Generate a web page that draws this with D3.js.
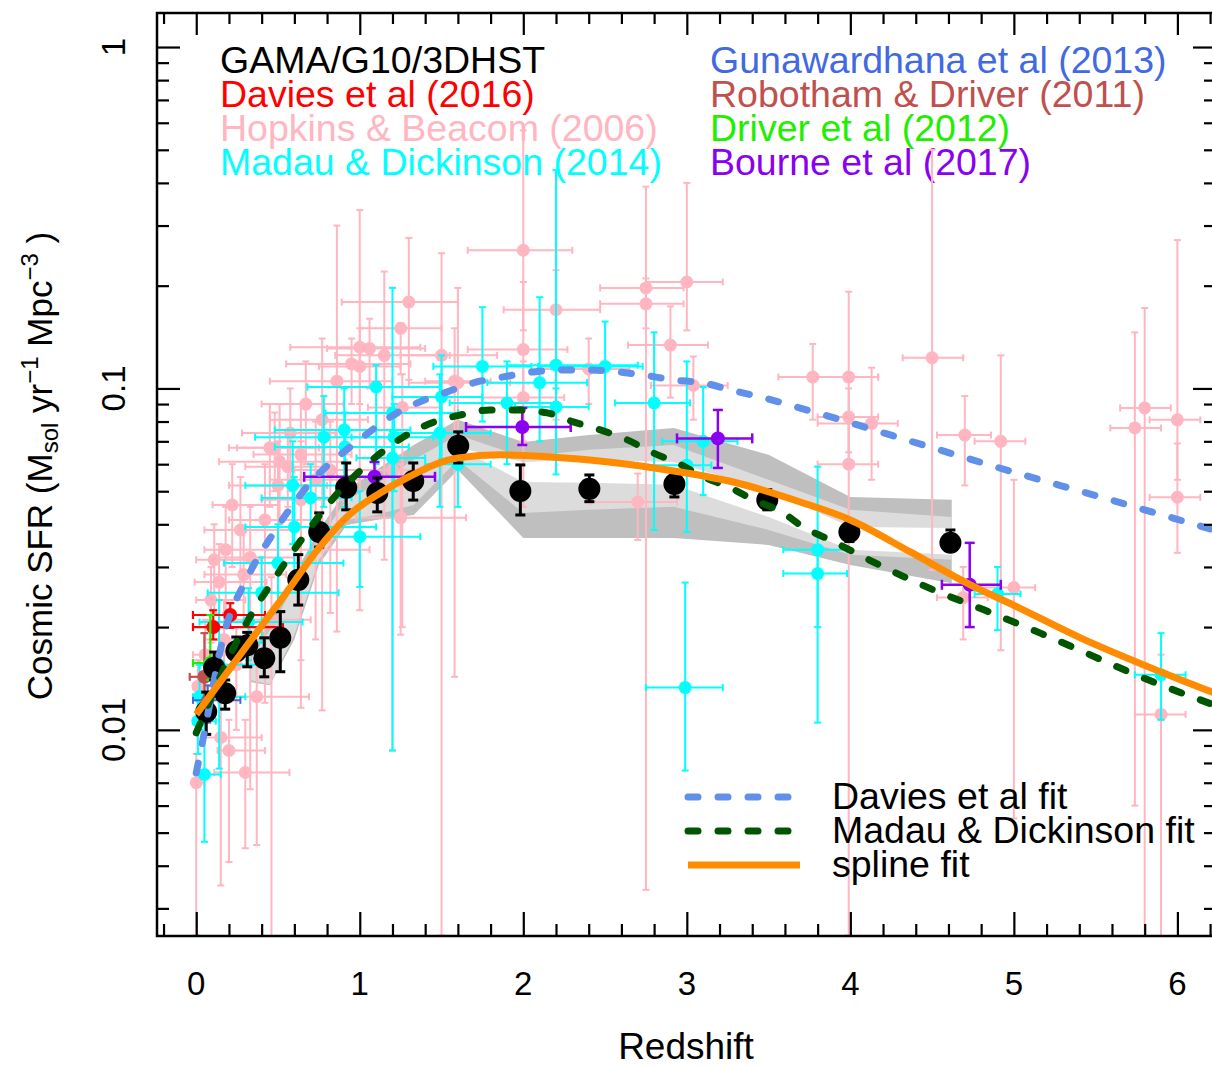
<!DOCTYPE html>
<html>
<head>
<meta charset="utf-8">
<script src="https://cdn.jsdelivr.net/npm/d3@7"></script>
<style>
  body { margin: 0; background: #fff; }
  svg { display: block; }
  text { font-family: "Liberation Sans", Arial, Helvetica, sans-serif; }
</style>
</head>
<body>
<svg id="chart" width="1212" height="1068"></svg>
<script>
// ---- data ----
// rows: [z, sfr, zLo, zHi, sfrLo, sfrHi]
const hopkins = [
  [5.90, 0.0111, 5.74, 6.05, 0.0014, 0.0166],
  [5.74, 0.0766, 5.59, 5.90, 0.0060, 0.146],
  [5.80, 0.0877, 5.65, 5.96, 0.0024, 0.172],
  [6.00, 0.0809, 5.83, 6.14, 0.054, 0.272],
  [6.00, 0.048, 5.83, 6.14, 0.033, 0.069],
  [4.50, 0.123, 4.32, 4.69, 0.0294, 0.50],
  [4.70, 0.073, 4.53, 4.86, 0.052, 0.095],
  [4.92, 0.070, 4.76, 5.07, 0.0171, 0.125],
  [5.00, 0.0261, 4.76, 5.13, 0.0055, 0.054],
  [4.69, 0.0244, 4.53, 4.84, 0.0184, 0.030],
  [3.77, 0.108, 3.56, 4.17, 0.081, 0.135],
  [3.99, 0.108, 3.80, 4.17, 0.060, 0.192],
  [3.99, 0.0825, 3.80, 4.17, 0.065, 0.10],
  [4.13, 0.079, 3.80, 4.29, 0.054, 0.115],
  [3.99, 0.060, 3.80, 4.17, 0.0025, 0.081],
  [2.90, 0.134, 2.64, 3.13, 0.094, 0.174],
  [2.75, 0.197, 2.47, 2.98, 0.0034, 0.39],
  [3.00, 0.205, 2.75, 3.22, 0.148, 0.40],
  [2.75, 0.177, 2.47, 2.98, 0.15, 0.21],
  [3.04, 0.102, 2.78, 3.25, 0.081, 0.124],
  [2.70, 0.0465, 2.41, 2.94, 0.036, 0.0563],
  [2.00, 0.254, 1.66, 2.30, 0.148, 0.57],
  [2.20, 0.170, 1.88, 2.47, 0.081, 0.222],
  [2.00, 0.130, 1.66, 2.27, 0.045, 0.205],
  [2.00, 0.094, 1.75, 2.25, 0.070, 0.120],
  [2.40, 0.114, 2.10, 2.65, 0.090, 0.140],
  [1.50, 0.125, 1.25, 1.84, 0.0025, 0.249],
  [1.60, 0.104, 1.30, 1.92, 0.060, 0.197],
  [1.30, 0.179, 0.89, 1.60, 0.106, 0.276],
  [1.25, 0.150, 1.00, 1.50, 0.110, 0.155],
  [1.00, 0.132, 0.575, 1.37, 0.090, 0.333],
  [1.06, 0.131, 0.80, 1.40, 0.100, 0.160],
  [1.15, 0.125, 0.85, 1.55, 0.0315, 0.220],
  [0.95, 0.118, 0.55, 1.31, 0.090, 0.140],
  [1.00, 0.116, 0.75, 1.25, 0.0224, 0.150],
  [0.86, 0.105, 0.45, 1.20, 0.0194, 0.300],
  [1.58, 0.105, 1.40, 1.80, 0.0143, 0.150],
  [0.77, 0.081, 0.45, 1.05, 0.0114, 0.140],
  [1.26, 0.088, 1.05, 1.50, 0.020, 0.110],
  [0.51, 0.061, 0.14, 0.92, 0.040, 0.090],
  [0.56, 0.059, 0.30, 0.80, 0.045, 0.075],
  [0.50, 0.052, 0.20, 0.80, 0.020, 0.070],
  [1.25, 0.0418, 0.98, 1.65, 0.019, 0.060],
  [1.20, 0.0577, 1.00, 1.40, 0.0087, 0.070],
  [0.37, 0.0125, 0.12, 0.69, 0.0046, 0.016],
  [0.20, 0.0087, 0.13, 0.42, 0.0041, 0.0107],
  [0.30, 0.0075, 0.11, 0.57, 0.0045, 0.0107],
  [0.15, 0.0095, 0.05, 0.40, 0.0035, 0.012],
  [0.00, 0.0070, -0.02, 0.05, 0.0025, 0.0085],
  [0.14, 0.0271, -0.01, 0.43, 0.020, 0.035],
  [0.01, 0.0134, -0.02, 0.10, 0.010, 0.016],
  [0.22, 0.0456, 0.10, 0.50, 0.030, 0.060],
  [0.27, 0.0385, 0.05, 0.60, 0.025, 0.055],
  [0.18, 0.0337, 0.05, 1.06, 0.022, 0.045],
  [0.11, 0.0315, 0.00, 0.40, 0.022, 0.040],
  [0.33, 0.0320, 0.10, 0.60, 0.0067, 0.045],
  [0.42, 0.0412, 0.20, 0.75, 0.012, 0.060],
  [0.64, 0.0472, 0.40, 0.90, 0.0116, 0.070],
  [0.09, 0.0240, 0.00, 0.30, 0.018, 0.030],
  [0.17, 0.0184, 0.05, 0.40, 0.012, 0.024],
  [0.245, 0.0155, 0.10, 0.45, 0.010, 0.020],
  [0.055, 0.0166, -0.02, 0.20, 0.012, 0.021],
  [0.73, 0.054, 0.45, 1.00, 0.0184, 0.080],
  [0.82, 0.0577, 0.60, 1.10, 0.022, 0.080],
  [0.64, 0.064, 0.35, 0.95, 0.016, 0.090],
  [0.45, 0.067, 0.20, 0.75, 0.045, 0.090],
  [0.29, 0.0285, 0.05, 0.55, 0.020, 0.038],
  [0.46, 0.021, 0.20, 0.70, 0.0024, 0.028],
  [0.575, 0.074, 0.28, 0.85, 0.050, 0.100],
  [0.48, 0.067, 0.25, 0.78, 0.050, 0.085],
  [0.67, 0.090, 0.40, 0.90, 0.060, 0.120]
];

const madau = [
  [2.99, 0.0133, 2.75, 3.22, 0.0076, 0.027],
  [5.90, 0.0145, 5.74, 6.05, 0.0107, 0.0192],
  [4.90, 0.0250, 4.76, 5.04, 0.0196, 0.030],
  [3.80, 0.0337, 3.59, 3.98, 0.0105, 0.059],
  [3.80, 0.0287, 3.59, 3.98, 0.020, 0.034],
  [2.80, 0.0907, 2.56, 3.02, 0.0385, 0.146],
  [3.10, 0.0700, 2.85, 3.31, 0.0487, 0.101],
  [3.00, 0.0596, 2.70, 3.15, 0.038, 0.120],
  [2.50, 0.116, 2.09, 2.73, 0.0756, 0.157],
  [2.20, 0.117, 1.90, 2.70, 0.062, 0.436],
  [2.10, 0.104, 1.78, 2.39, 0.070, 0.185],
  [1.75, 0.116, 1.45, 2.05, 0.080, 0.173],
  [1.90, 0.0907, 1.55, 2.20, 0.060, 0.120],
  [2.20, 0.0883, 1.95, 2.40, 0.056, 0.100],
  [1.50, 0.0944, 1.20, 1.75, 0.062, 0.125],
  [1.10, 0.101, 0.68, 1.49, 0.060, 0.117],
  [0.78, 0.0720, 0.36, 1.19, 0.045, 0.095],
  [0.905, 0.0756, 0.48, 1.31, 0.050, 0.100],
  [1.20, 0.0848, 0.79, 1.60, 0.055, 0.197],
  [1.21, 0.0720, 0.95, 1.45, 0.050, 0.090],
  [1.20, 0.0626, 0.98, 1.40, 0.0087, 0.075],
  [1.49, 0.0741, 1.20, 1.80, 0.045, 0.110],
  [0.91, 0.0674, 0.48, 1.30, 0.045, 0.085],
  [0.70, 0.0478, 0.40, 0.95, 0.033, 0.060],
  [0.60, 0.0393, 0.30, 1.10, 0.0262, 0.055],
  [1.00, 0.0368, 0.72, 1.37, 0.0262, 0.050],
  [0.40, 0.0252, 0.07, 0.87, 0.018, 0.032],
  [0.32, 0.0207, 0.02, 0.65, 0.016, 0.026],
  [0.02, 0.0125, -0.02, 0.30, 0.010, 0.0155],
  [0.05, 0.0074, 0.02, 0.15, 0.0047, 0.0105],
  [0.01, 0.0106, -0.02, 0.12, 0.0085, 0.0125],
  [0.50, 0.0308, 0.17, 0.90, 0.022, 0.040],
  [1.60, 0.0600, 1.40, 1.80, 0.045, 0.075],
  [0.59, 0.0520, 0.30, 0.95, 0.035, 0.070],
  [0.14, 0.0155, 0.02, 0.40, 0.0077, 0.024]
];

const davies16 = [
  [0.104, 0.0200, -0.02, 0.53, 0.0184, 0.0224],
  [0.208, 0.0217, -0.02, 0.42, 0.0199, 0.0235]
];
const gunawardhana = [[0.07, 0.0122, -0.02, 0.27, 0.0105, 0.0135]];
const robotham = [[0.05, 0.0143, -0.04, 0.13, 0.0122, 0.0192]];
const driver12 = [[0.086, 0.0157, -0.02, 0.13, 0.0140, 0.0217]];
const bourne = [
  [1.09, 0.0551, 0.66, 1.46, 0.0495, 0.0609],
  [1.994, 0.0771, 1.65, 2.29, 0.0683, 0.0877],
  [3.19, 0.0714, 2.94, 3.40, 0.0585, 0.0865],
  [4.73, 0.0266, 4.56, 4.92, 0.0200, 0.0353]
];

// GAMA/G10/3DHST: [z, sfr, sfrLo, sfrHi]
const gama = [
  [0.061, 0.0113, 0.0097, 0.0129],
  [0.110, 0.0152, 0.0140, 0.0169],
  [0.177, 0.0128, 0.0115, 0.0140],
  [0.245, 0.0170, 0.0161, 0.0187],
  [0.312, 0.0177, 0.0153, 0.0193],
  [0.416, 0.0162, 0.0143, 0.0186],
  [0.514, 0.0186, 0.0148, 0.0222],
  [0.624, 0.0275, 0.0232, 0.0326],
  [0.752, 0.0380, 0.0343, 0.0432],
  [0.917, 0.0512, 0.0441, 0.0605],
  [1.107, 0.0494, 0.0435, 0.0547],
  [1.327, 0.0536, 0.0471, 0.0605],
  [1.602, 0.0679, 0.0605, 0.0746],
  [1.982, 0.0501, 0.0426, 0.0597],
  [2.404, 0.0508, 0.0466, 0.0558],
  [2.924, 0.0525, 0.0481, 0.0558],
  [3.492, 0.0471, 0.0441, 0.0505],
  [3.994, 0.0380, 0.0356, 0.0412],
  [4.612, 0.0353, 0.0337, 0.0385]
];

// shaded error regions
const bandZ       = [0.33, 0.45, 0.60, 0.75, 0.92, 1.10, 1.33, 1.60, 2.00, 2.40, 2.92, 3.50, 4.00, 4.62];
const bandDarkHi  = [0.0166, 0.0210, 0.0284, 0.0385, 0.0504, 0.0577, 0.0683, 0.0809, 0.0697, 0.0731, 0.0766, 0.0639, 0.0481, 0.0472];
const bandDarkLo  = [0.0138, 0.0135, 0.0184, 0.0304, 0.0398, 0.0412, 0.0426, 0.0577, 0.0365, 0.0365, 0.0365, 0.0348, 0.0304, 0.0269];
const bandLightHi = [0.0160, 0.0196, 0.0266, 0.0360, 0.0472, 0.0522, 0.0618, 0.0731, 0.0630, 0.0661, 0.0683, 0.0540, 0.0441, 0.0420];
const bandLightLo = [0.0140, 0.0136, 0.0190, 0.0315, 0.0412, 0.0426, 0.0456, 0.0618, 0.0432, 0.0441, 0.0450, 0.0385, 0.0326, 0.0315];
const coreZ  = [1.60, 2.00, 2.40, 2.92, 3.50, 4.00, 4.62];
const coreHi = [0.0670, 0.0609, 0.0618, 0.0609, 0.0504, 0.0393, 0.0390];
const coreLo = [0.0670, 0.0532, 0.0529, 0.0522, 0.0420, 0.0337, 0.0326];

// fitted curves
const fitDaviesZ = [0, 0.037, 0.177, 0.312, 0.477, 0.599, 0.697, 0.820, 0.942, 1.229, 1.394, 1.535, 1.694, 1.878, 2.061, 2.245, 2.410, 2.575, 2.734, 2.917, 3.101, 3.266, 3.450, 3.774, 4.446, 4.997, 5.529, 6.23];
const fitDaviesV = [0.00748, 0.00916, 0.0196, 0.0279, 0.0380, 0.0462, 0.0529, 0.0605, 0.0674, 0.0848, 0.0925, 0.0977, 0.1038, 0.1081, 0.1118, 0.1133, 0.1133, 0.1118, 0.1095, 0.1059, 0.1038, 0.0990, 0.0944, 0.0854, 0.0683, 0.0569, 0.0481, 0.0384];
const fitMadauZ = [0, 0.294, 0.391, 0.483, 0.575, 0.679, 0.789, 1.028, 1.168, 1.309, 1.456, 1.615, 1.798, 1.963, 2.147, 2.306, 2.471, 2.636, 2.795, 2.942, 3.101, 3.266, 3.407, 3.590, 3.694, 3.896, 4.202, 4.508, 4.813, 5.162, 5.896, 6.23];
const fitMadauV = [0.0098, 0.0200, 0.0240, 0.0279, 0.0325, 0.0380, 0.0447, 0.0589, 0.0669, 0.0741, 0.0798, 0.0836, 0.0865, 0.0865, 0.0848, 0.0798, 0.0756, 0.0707, 0.0647, 0.0605, 0.0551, 0.0512, 0.0472, 0.0432, 0.0398, 0.0356, 0.0300, 0.0257, 0.0225, 0.0192, 0.01355, 0.0118];
const splineZ = [0, 0.312, 0.550, 0.746, 0.942, 1.125, 1.309, 1.602, 1.859, 2.391, 2.881, 3.284, 3.694, 4.0, 4.367, 4.734, 4.997, 5.407, 5.896, 6.23];
const splineV = [0.0111, 0.0177, 0.0252, 0.0339, 0.0429, 0.0494, 0.0554, 0.0626, 0.0639, 0.0618, 0.0577, 0.0532, 0.0465, 0.0412, 0.0332, 0.0266, 0.0232, 0.0186, 0.0148, 0.0128];

// axes
const xMajor = [0, 1, 2, 3, 4, 5, 6];
const xMinor = d3.range(-0.2, 6.3, 0.2).filter(v => Math.abs(v - Math.round(v)) > 0.01);
const yMajor = [0.01, 0.1, 1];
const yMajorLabels = ['0.01', '0.1', '1'];
const yMinor = [0.003, 0.004, 0.005, 0.006, 0.007, 0.008, 0.009,
                0.02, 0.03, 0.04, 0.05, 0.06, 0.07, 0.08, 0.09,
                0.2, 0.3, 0.4, 0.5, 0.6, 0.7, 0.8, 0.9];

const legendTop = [
  ['GAMA/G10/3DHST', '#000000'],
  ['Davies et al (2016)', '#ff0000'],
  ['Hopkins & Beacom (2006)', '#ffb6c1'],
  ['Madau & Dickinson (2014)', '#00ffff']
];
const legendTop2 = [
  ['Gunawardhana et al (2013)', '#4169e1'],
  ['Robotham & Driver (2011)', '#c0504d'],
  ['Driver et al (2012)', '#22ee00'],
  ['Bourne et al (2017)', '#8a00f0']
];
const legendFits = [
  ['Davies et al fit', '#6090ea', '10 20'],
  ['Madau & Dickinson fit', '#005500', '10 20'],
  ['spline fit', '#ff8c00', null]
];

// ---- layout ----
const box = { left: 157, top: 13, right: 1215, bottom: 936 };
const x = d3.scaleLinear().domain([-0.24, 6.23]).range([box.left, box.right]);
const y = d3.scaleLog().domain([0.00249, 1.258]).range([box.bottom, box.top]);

const svg = d3.select('#chart');
svg.append('defs').append('clipPath').attr('id', 'clip')
  .append('rect')
  .attr('x', box.left).attr('y', box.top)
  .attr('width', box.right - box.left).attr('height', box.bottom - box.top);

// legend text (top)
const legG = svg.append('g').attr('font-size', 37.5);
legG.selectAll('text.l1').data(legendTop).join('text')
  .attr('x', 220).attr('y', (d, i) => 73 + i * 34)
  .attr('fill', d => d[1]).text(d => d[0]);
legG.selectAll('text.l2').data(legendTop2).join('text')
  .attr('x', 710).attr('y', (d, i) => 73 + i * 34)
  .attr('fill', d => d[1]).text(d => d[0]);

const plot = svg.append('g').attr('clip-path', 'url(#clip)');

// bands
function band(zs, lo, hi, fill) {
  const a = d3.area()
    .x((d, i) => x(zs[i]))
    .y0((d, i) => y(lo[i]))
    .y1((d, i) => y(hi[i]));
  plot.append('path').datum(zs).attr('d', a).attr('fill', fill);
}
band(bandZ, bandDarkLo, bandDarkHi, '#bfbfbf');
band(bandZ, bandLightLo, bandLightHi, '#dcdcdc');
band(coreZ, coreLo, coreHi, '#ffffff');

// points with error bars
function drawSet(rows, color, r, sw, cap) {
  const g = plot.append('g').attr('stroke', color).attr('stroke-width', sw);
  g.selectAll('line.xe').data(rows).join('line')
    .attr('x1', d => x(d[2])).attr('x2', d => x(d[3]))
    .attr('y1', d => y(d[1])).attr('y2', d => y(d[1]));
  g.selectAll('line.ye').data(rows).join('line')
    .attr('x1', d => x(d[0])).attr('x2', d => x(d[0]))
    .attr('y1', d => y(d[4])).attr('y2', d => y(d[5]));
  [2, 3].forEach(k => {
    g.append('g').selectAll('line').data(rows).join('line')
      .attr('x1', d => x(d[k])).attr('x2', d => x(d[k]))
      .attr('y1', d => y(d[1]) - cap).attr('y2', d => y(d[1]) + cap);
  });
  [4, 5].forEach(k => {
    g.append('g').selectAll('line').data(rows).join('line')
      .attr('x1', d => x(d[0]) - cap).attr('x2', d => x(d[0]) + cap)
      .attr('y1', d => y(d[k])).attr('y2', d => y(d[k]));
  });
  plot.append('g').selectAll('circle').data(rows).join('circle')
    .attr('cx', d => x(d[0])).attr('cy', d => y(d[1]))
    .attr('r', r).attr('fill', color);
}
drawSet(hopkins, '#ffb6c1', 6.5, 2, 3.5);
drawSet(madau, '#00ffff', 6.5, 2, 3.5);
drawSet(gunawardhana, '#4169e1', 6.5, 2, 3.5);
drawSet(davies16, '#ff0000', 7, 2.2, 4);
drawSet(robotham, '#c0504d', 7, 2.2, 4);
drawSet(driver12, '#22ee00', 7, 2.2, 4);
drawSet(bourne, '#8a00f0', 7, 2.5, 5);

// GAMA points
const gG = plot.append('g').attr('stroke', '#000').attr('stroke-width', 3);
gG.selectAll('line.v').data(gama).join('line')
  .attr('x1', d => x(d[0])).attr('x2', d => x(d[0]))
  .attr('y1', d => y(d[2])).attr('y2', d => y(d[3]));
[2, 3].forEach(k => {
  gG.append('g').selectAll('line').data(gama).join('line')
    .attr('x1', d => x(d[0]) - 5).attr('x2', d => x(d[0]) + 5)
    .attr('y1', d => y(d[k])).attr('y2', d => y(d[k]));
});
plot.append('g').selectAll('circle').data(gama).join('circle')
  .attr('cx', d => x(d[0])).attr('cy', d => y(d[1])).attr('r', 11).attr('fill', '#000');

// curves
function curve(zs, vs, color, dash) {
  const line = d3.line().curve(d3.curveMonotoneX)
    .x((d, i) => x(zs[i])).y((d, i) => y(vs[i]));
  const p = plot.append('path').datum(zs).attr('d', line)
    .attr('fill', 'none').attr('stroke', color).attr('stroke-width', 7)
    .attr('stroke-linecap', dash ? 'round' : 'butt');
  if (dash) p.attr('stroke-dasharray', dash);
}
curve(fitDaviesZ, fitDaviesV, '#6090ea', '10 20');
curve(fitMadauZ, fitMadauV, '#005500', '10 20');
curve(splineZ, splineV, '#ff8c00', null);

// axes ticks (inward)
function ticks(axis, vals, size, tr) {
  svg.append('g').attr('transform', tr)
    .call(axis.tickValues(vals).tickSize(size).tickSizeOuter(0).tickFormat(''))
    .call(g => g.select('.domain').remove())
    .call(g => g.selectAll('line').attr('stroke', '#000').attr('stroke-width', 2.2));
}
ticks(d3.axisBottom(x), xMajor, -24, `translate(0,${box.bottom})`);
ticks(d3.axisBottom(x), xMinor, -12, `translate(0,${box.bottom})`);
ticks(d3.axisTop(x), xMajor, -22, `translate(0,${box.top})`);
ticks(d3.axisTop(x), xMinor, -11, `translate(0,${box.top})`);
ticks(d3.axisLeft(y), yMajor, -23, `translate(${box.left},0)`);
ticks(d3.axisLeft(y), yMinor, -12, `translate(${box.left},0)`);
ticks(d3.axisRight(y), yMajor, -22, `translate(${box.right},0)`);
ticks(d3.axisRight(y), yMinor, -11, `translate(${box.right},0)`);

svg.append('rect')
  .attr('x', box.left).attr('y', box.top)
  .attr('width', box.right - box.left).attr('height', box.bottom - box.top)
  .attr('fill', 'none').attr('stroke', '#000').attr('stroke-width', 2.5);

// tick labels
svg.append('g').attr('font-size', 33).attr('text-anchor', 'middle')
  .selectAll('text').data(xMajor).join('text')
  .attr('x', d => x(d)).attr('y', 995).text(d => d);
svg.append('g').attr('font-size', 33).attr('text-anchor', 'middle')
  .selectAll('text').data(yMajor).join('text')
  .attr('transform', d => `translate(125,${y(d)}) rotate(-90)`)
  .text((d, i) => yMajorLabels[i]);

// axis titles
svg.append('text').attr('x', 686).attr('y', 1059).attr('text-anchor', 'middle')
  .attr('font-size', 37).text('Redshift');
const yt = svg.append('text').attr('transform', 'translate(52,466) rotate(-90)')
  .attr('text-anchor', 'middle').attr('font-size', 35);
yt.append('tspan').text('Cosmic SFR (M');
yt.append('tspan').attr('font-size', 24).attr('dy', 6).text('sol');
yt.append('tspan').attr('dy', -6).text(' yr');
yt.append('tspan').attr('font-size', 24).attr('dy', -14).text('\u22121');
yt.append('tspan').attr('dy', 14).text(' Mpc');
yt.append('tspan').attr('font-size', 24).attr('dy', -14).text('\u22123');
yt.append('tspan').attr('dy', 14).text(' )');

// fit legend
const fl = svg.append('g');
legendFits.forEach((d, i) => {
  const yy = 797 + i * 34;
  const l = fl.append('line').attr('x1', 688).attr('x2', 800).attr('y1', yy).attr('y2', yy)
    .attr('stroke', d[1]).attr('stroke-width', 7)
    .attr('stroke-linecap', d[2] ? 'round' : 'butt');
  if (d[2]) l.attr('stroke-dasharray', d[2]);
  fl.append('text').attr('x', 832).attr('y', yy + 12).attr('font-size', 37.5).text(d[0]);
});
</script>
</body>
</html>
